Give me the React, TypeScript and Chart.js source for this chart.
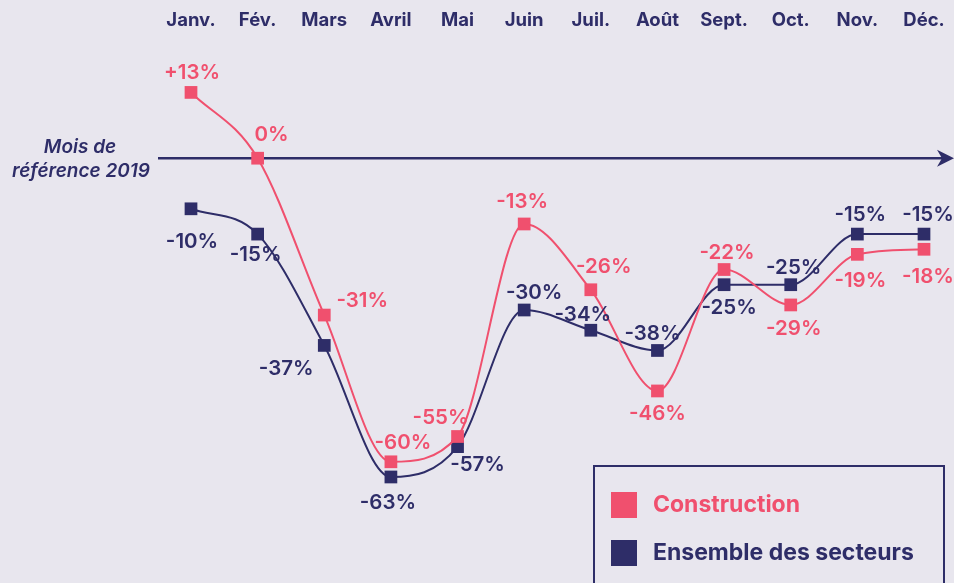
import React, { useEffect, useRef } from "react";
import { Chart, registerables } from "chart.js";

Chart.register(...registerables);

const months = ["Janv.", "Fév.", "Mars", "Avril", "Mai", "Juin", "Juil.", "Août", "Sept.", "Oct.", "Nov.", "Déc."];
const construction = [13, 0, -31, -60, -55, -13, -26, -46, -22, -29, -19, -18];
const ensemble = [-10, -15, -37, -63, -57, -30, -34, -38, -25, -25, -15, -15];
const seriesNames = ["Construction", "Ensemble des secteurs"];
const referenceLabel = ["Mois de", "référence 2019"];

// label offsets (style only): [dx, dy] from point to text centre
const constructionLabelOffsets = [[1, -20], [14, -23], [38, -14], [12, -19], [-17, -19], [-2, -22], [13, -23], [0, 23], [3, -17], [3, 24], [3, 27], [4, 28]];
const ensembleLabelOffsets = [[1, 33], [-2, 21], [-38, 23], [-3, 26], [20, 18], [10, -17], [-8, -15], [-5, -17], [5, 23], [3, -17], [3, -19], [4, -19]];

const RED = "#f0506e";
const NAVY = "#2e2d68";
const BG = "#e8e6ee";
const FONT = "Inter, 'Open Sans', sans-serif";

const fmt = (v: number) => (v > 0 ? "+" + v + "%" : v + "%");

const decorPlugin = {
  id: "decor",
  beforeDatasetsDraw(chart: any) {
    const ctx = chart.ctx;
    const y0 = chart.scales.y.getPixelForValue(0);
    ctx.save();
    // reference arrow
    ctx.strokeStyle = NAVY;
    ctx.lineWidth = 2.5;
    ctx.beginPath();
    ctx.moveTo(158, y0);
    ctx.lineTo(944, y0);
    ctx.stroke();
    ctx.fillStyle = NAVY;
    ctx.beginPath();
    ctx.moveTo(954, y0);
    ctx.lineTo(937, y0 - 8.5);
    ctx.lineTo(942, y0);
    ctx.lineTo(937, y0 + 8.5);
    ctx.closePath();
    ctx.fill();
    // reference text
    ctx.font = "italic 600 19px " + FONT;
    ctx.textAlign = "center";
    ctx.textBaseline = "middle";
    ctx.fillText(referenceLabel[0], 80, y0 - 11);
    ctx.fillText(referenceLabel[1], 81, y0 + 13);
    // month labels
    ctx.font = "700 18.5px " + FONT;
    const xs = chart.scales.x;
    months.forEach((m, i) => {
      ctx.fillText(m, xs.getPixelForValue(i), 20);
    });
    ctx.restore();
  },
  afterDatasetsDraw(chart: any) {
    const ctx = chart.ctx;
    ctx.save();
    ctx.font = "600 20.5px " + FONT;
    ctx.textAlign = "center";
    ctx.textBaseline = "middle";
    const offs = [constructionLabelOffsets, ensembleLabelOffsets];
    chart.data.datasets.forEach((ds: any, di: number) => {
      const meta = chart.getDatasetMeta(di);
      ctx.fillStyle = ds.borderColor;
      meta.data.forEach((pt: any, i: number) => {
        const [dx, dy] = offs[di][i];
        ctx.fillText(fmt(ds.data[i]), pt.x + dx, pt.y + dy);
      });
    });
    // legend box
    ctx.strokeStyle = NAVY;
    ctx.lineWidth = 2;
    ctx.strokeRect(594, 466, 350, 130);
    const items = [
      { color: RED, y: 505 },
      { color: NAVY, y: 553 },
    ];
    ctx.textAlign = "left";
    ctx.font = "700 23px " + FONT;
    items.forEach((it, i) => {
      ctx.fillStyle = it.color;
      ctx.fillRect(611, it.y - 13, 26, 26);
      ctx.fillText(seriesNames[i], 653, it.y);
    });
    ctx.restore();
  },
};

export default function App() {
  const ref = useRef<HTMLCanvasElement | null>(null);
  useEffect(() => {
    if (!ref.current) return;
    const chart = new Chart(ref.current, {
      type: "line",
      data: {
        labels: months,
        datasets: [
          {
            label: seriesNames[0],
            data: construction,
            borderColor: RED,
            backgroundColor: RED,
            borderWidth: 2,
            pointStyle: "rect",
            pointRadius: 9,
            pointHoverRadius: 9,
            pointBorderWidth: 0,
            cubicInterpolationMode: "monotone",
            clip: false,
          },
          {
            label: seriesNames[1],
            data: ensemble,
            borderColor: NAVY,
            backgroundColor: NAVY,
            borderWidth: 2,
            pointStyle: "rect",
            pointRadius: 9,
            pointHoverRadius: 9,
            pointBorderWidth: 0,
            cubicInterpolationMode: "monotone",
            clip: false,
          },
        ],
      },
      options: {
        responsive: false,
        animation: false,
        events: [],
        layout: { padding: { left: 191, right: 30, top: 57, bottom: 20 } },
        scales: {
          x: { display: false, offset: false },
          y: { display: false, min: -80, max: 20 },
        },
        plugins: { legend: { display: false }, tooltip: { enabled: false } },
      },
      plugins: [decorPlugin],
    } as any);
    return () => chart.destroy();
  }, []);
  return (
    <div style={{ position: "fixed", left: 0, top: 0, width: 954, height: 583, background: BG, overflow: "hidden" }}>
      <canvas ref={ref} width={954} height={583} style={{ display: "block" }} />
    </div>
  );
}
